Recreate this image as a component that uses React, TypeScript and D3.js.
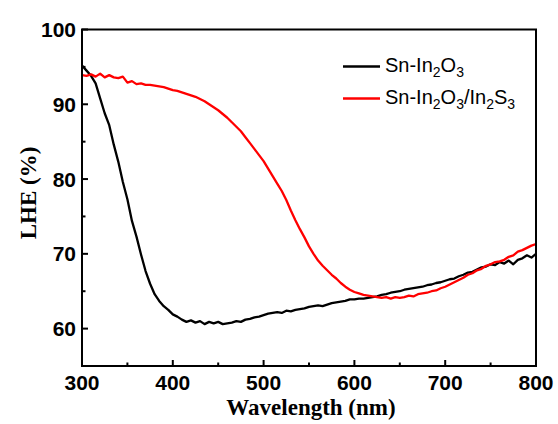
import React from "react";
import * as d3 from "d3";

const wavelengths: number[] = d3.range(300, 801, 5);

const snIn2O3: number[] = [
  95.2, 94.5, 93.8, 92.8, 90.8, 88.8, 87.2, 84.6, 82.3, 79.6,
  77.3, 74.4, 72.3, 69.9, 67.7, 66.0, 64.6, 63.7, 63.0, 62.5,
  61.9, 61.6, 61.2, 60.9, 61.1, 60.8, 61.0, 60.6, 60.9, 60.7,
  60.9, 60.6, 60.7, 60.8, 61.0, 60.9, 61.2, 61.3, 61.5, 61.6,
  61.8, 62.0, 62.1, 62.2, 62.1, 62.4, 62.3, 62.5, 62.6, 62.7,
  62.9, 63.0, 63.1, 63.0, 63.2, 63.4, 63.5, 63.6, 63.7, 63.9,
  63.9, 64.0, 64.0, 64.1, 64.2, 64.3, 64.5, 64.6, 64.8, 64.9,
  65.0, 65.2, 65.3, 65.4, 65.5, 65.6, 65.8, 65.9, 66.1, 66.2,
  66.4, 66.6, 66.7, 67.0, 67.2, 67.5, 67.6, 67.9, 68.2, 68.3,
  68.6, 68.5, 68.9, 68.7, 69.1, 68.6, 69.2, 69.4, 69.8, 69.5,
  70.0,
];

const snIn2O3In2S3: number[] = [
  93.9, 93.8, 94.0, 93.7, 94.1, 93.6, 93.9, 93.6, 93.5, 93.7,
  92.9, 93.1, 92.7, 92.8, 92.6, 92.6, 92.5, 92.4, 92.3, 92.1,
  91.9, 91.8, 91.6, 91.4, 91.2, 91.0, 90.7, 90.4, 90.0, 89.6,
  89.2, 88.7, 88.2, 87.6, 87.0, 86.4, 85.6, 84.8, 84.0, 83.2,
  82.4, 81.4, 80.4, 79.4, 78.4, 77.2, 75.8, 74.5, 73.3, 72.2,
  71.0, 70.0, 69.1, 68.4, 67.8, 67.2, 66.7, 66.1, 65.6, 65.2,
  64.9, 64.7, 64.5, 64.4, 64.3, 64.2, 64.1, 64.2, 64.0, 64.2,
  64.1, 64.2, 64.4, 64.3, 64.6, 64.7, 64.8, 65.0, 65.1, 65.4,
  65.6, 65.9, 66.2, 66.5, 66.8, 67.2, 67.4, 67.8, 68.0, 68.4,
  68.6, 68.9, 69.0, 69.2, 69.6, 69.8, 70.3, 70.5, 70.8, 71.1,
  71.3,
];

const xTicks = [300, 400, 500, 600, 700, 800];
const xMinor = [350, 450, 550, 650, 750];
const yTicks = [60, 70, 80, 90, 100];
const yMinor = [65, 75, 85, 95];

const left = 82, right = 536, top = 29.5, bottom = 366;

export default function App() {
  const x = d3.scaleLinear().domain([300, 800]).range([left, right]);
  const y = d3.scaleLinear().domain([55, 100]).range([bottom, top]);
  const line = d3
    .line<number>()
    .x((_, i) => x(wavelengths[i]))
    .y((d) => y(d));

  const tickFont = "'Liberation Sans', Arial, sans-serif";
  const titleFont = "'Liberation Serif', 'Times New Roman', serif";

  return (
    <svg
      width={558}
      height={424}
      style={{ position: "absolute", left: 0, top: 0, background: "#fff" }}
    >
      <defs>
        <clipPath id="plot">
          <rect x={left} y={top} width={right - left} height={bottom - top} />
        </clipPath>
      </defs>
      <g clipPath="url(#plot)">
        <path d={line(snIn2O3) || ""} fill="none" stroke="#000" strokeWidth={2.3} strokeLinejoin="round" />
        <path d={line(snIn2O3In2S3) || ""} fill="none" stroke="#ff0000" strokeWidth={2.3} strokeLinejoin="round" />
      </g>
      <rect x={left} y={top} width={right - left} height={bottom - top} fill="none" stroke="#000" strokeWidth={2} />
      {xTicks.map((t) => (
        <g key={"xt" + t}>
          <line x1={x(t)} x2={x(t)} y1={bottom} y2={bottom - 6} stroke="#000" strokeWidth={2} />
          <text x={x(t)} y={390} textAnchor="middle" fontFamily={tickFont} fontWeight="bold" fontSize={21}>
            {t}
          </text>
        </g>
      ))}
      {xMinor.map((t) => (
        <line key={"xm" + t} x1={x(t)} x2={x(t)} y1={bottom} y2={bottom - 3.5} stroke="#000" strokeWidth={2} />
      ))}
      {yTicks.map((t) => (
        <g key={"yt" + t}>
          <line x1={left} x2={left + 6} y1={y(t)} y2={y(t)} stroke="#000" strokeWidth={2} />
          <text x={76} y={y(t)} dy="0.36em" textAnchor="end" fontFamily={tickFont} fontWeight="bold" fontSize={21}>
            {t}
          </text>
        </g>
      ))}
      {yMinor.map((t) => (
        <line key={"ym" + t} x1={left} x2={left + 3.5} y1={y(t)} y2={y(t)} stroke="#000" strokeWidth={2} />
      ))}
      <text x={311} y={415} textAnchor="middle" fontFamily={titleFont} fontWeight="bold" fontSize={23}>
        Wavelength (nm)
      </text>
      <text
        transform="translate(36,193) rotate(-90)"
        textAnchor="middle"
        fontFamily={titleFont}
        fontWeight="bold"
        fontSize={23}
      >
        LHE (%)
      </text>
      <line x1={343} x2={380} y1={66.5} y2={66.5} stroke="#000" strokeWidth={2.5} />
      <text x={385} y={71.5} fontFamily={tickFont} fontSize={20}>
        Sn-In<tspan fontSize={14} dy={5}>2</tspan>
        <tspan dy={-5}>O</tspan>
        <tspan fontSize={14} dy={5}>3</tspan>
      </text>
      <line x1={343} x2={380} y1={98.5} y2={98.5} stroke="#ff0000" strokeWidth={2.5} />
      <text x={385} y={103.5} fontFamily={tickFont} fontSize={20}>
        Sn-In<tspan fontSize={14} dy={5}>2</tspan>
        <tspan dy={-5}>O</tspan>
        <tspan fontSize={14} dy={5}>3</tspan>
        <tspan dy={-5}>/In</tspan>
        <tspan fontSize={14} dy={5}>2</tspan>
        <tspan dy={-5}>S</tspan>
        <tspan fontSize={14} dy={5}>3</tspan>
      </text>
    </svg>
  );
}
